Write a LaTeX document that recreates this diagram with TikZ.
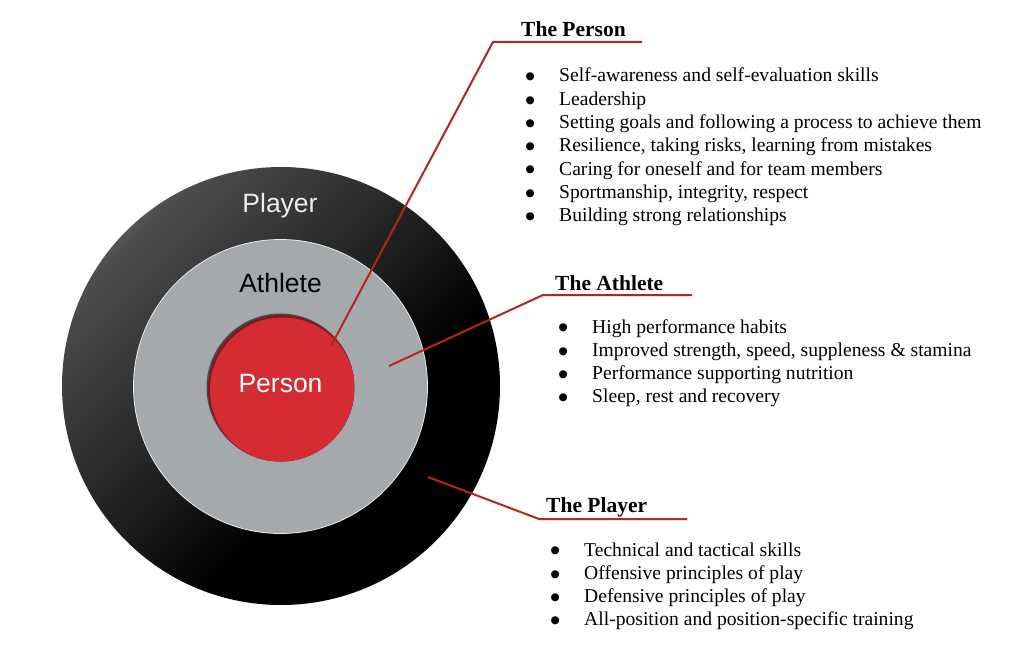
\documentclass[tikz,border=0pt]{standalone}
\usepackage{fontspec}
\setmainfont{Liberation Serif}
\newfontfamily\circfont{Liberation Sans}
\newfontfamily\symfont{DejaVu Sans}
\definecolor{leadred}{HTML}{B3261E}
\definecolor{personred}{HTML}{D52B33}
\definecolor{athgrey}{HTML}{A6A9AC}
\definecolor{ringlight}{HTML}{9C9EA1}
\definecolor{ringmid}{HTML}{4D4D4F}
\definecolor{ringdark}{HTML}{1A1A1A}
\definecolor{innershadow}{HTML}{4A4A4C}
\pgfdeclareverticalshading{ringshade}{100bp}{color(0bp)=(black); color(40bp)=(black); color(50bp)=(ringdark); color(74bp)=(ringmid); color(87bp)=(ringlight); color(100bp)=(ringlight)}
\tikzset{
  leader/.style={draw=leadred, line width=2pt, line join=miter},
  titlenode/.style={anchor=base west, inner sep=0pt, font=\fontsize{21.5}{24}\selectfont\bfseries},
  listnode/.style={anchor=base west, inner sep=0pt, font=\fontsize{19.6}{23.3}\selectfont},
  circlabel/.style={anchor=base, inner sep=0pt, font=\circfont\fontsize{26.5}{30}\selectfont},
}
\newcommand\bmark{\makebox[10pt][c]{\raisebox{2.2pt}{\symfont\fontsize{10.5}{11}\selectfont ●}}}
\newenvironment{bulletlist}{\begin{tabular}[t]{@{}l@{\hspace{24pt}}l@{}}}{\end{tabular}}
\begin{document}
\begin{tikzpicture}[x=1pt,y=-1pt]
\useasboundingbox (0,0) rectangle (1024,660);
\fill[white] (0,0) rectangle (1024,660);

% rings
\node[circle, minimum size=438pt, inner sep=0pt, shading=ringshade, shading angle=45] (outer) at (281,386) {};
\node[circle, minimum size=294pt, inner sep=0pt, fill=athgrey, draw=white!75!athgrey, line width=0.8pt] (middle) at (280.5,386.5) {};
\node[circle, minimum size=148pt, inner sep=0pt, fill=innershadow] (inner) at (280.5,387.5) {};
\begin{scope}
  \clip (280.5,387.5) circle (74pt);
  \fill[black!40!personred] (281.5,388.5) circle (73.5pt);
  \fill[personred] (282.5,390) circle (72.5pt);
\end{scope}

\node[circlabel, text=white!93!black] (lplayer) at (280,213) {Player};
\node[circlabel, text=black] (lathlete) at (280.5,292) {Athlete};
\node[circlabel, text=white] (lperson) at (280.5,392) {Person};

% leaders
\coordinate (pe) at (331,346);
\coordinate (pc) at (493,42);
\coordinate (pu) at (642,42);
\coordinate (ae) at (389,366);
\coordinate (ac) at (543,295);
\coordinate (au) at (692,295);
\coordinate (ye) at (428,477);
\coordinate (yc) at (539,519);
\coordinate (yu) at (687,519);
\draw[leader] (pe) -- (pc) -- (pu);
\draw[leader] (ae) -- (ac) -- (au);
\draw[leader] (ye) -- (yc) -- (yu);

% titles
\node[titlenode] (tperson) at (521,37) {The Person};
\node[titlenode] (tathlete) at (555,290) {The Athlete};
\node[titlenode] (tplayer) at (546,512) {The Player};

% lists
\node[listnode] (listperson) at (525,82) {\begin{bulletlist}
\bmark & Self-awareness and self-evaluation skills\\
\bmark & Leadership\\
\bmark & Setting goals and following a process to achieve them\\
\bmark & Resilience, taking risks, learning from mistakes\\
\bmark & Caring for oneself and for team members\\
\bmark & Sportmanship, integrity, respect\\
\bmark & Building strong relationships
\end{bulletlist}};
\node[listnode] (listathlete) at (558,333) {\begin{bulletlist}
\bmark & High performance habits\\
\bmark & Improved strength, speed, suppleness \& stamina\\
\bmark & Performance supporting nutrition\\
\bmark & Sleep, rest and recovery
\end{bulletlist}};
\node[listnode] (listplayer) at (550,556) {\begin{bulletlist}
\bmark & Technical and tactical skills\\
\bmark & Offensive principles of play\\
\bmark & Defensive principles of play\\
\bmark & All-position and position-specific training
\end{bulletlist}};
\end{tikzpicture}
\end{document}
